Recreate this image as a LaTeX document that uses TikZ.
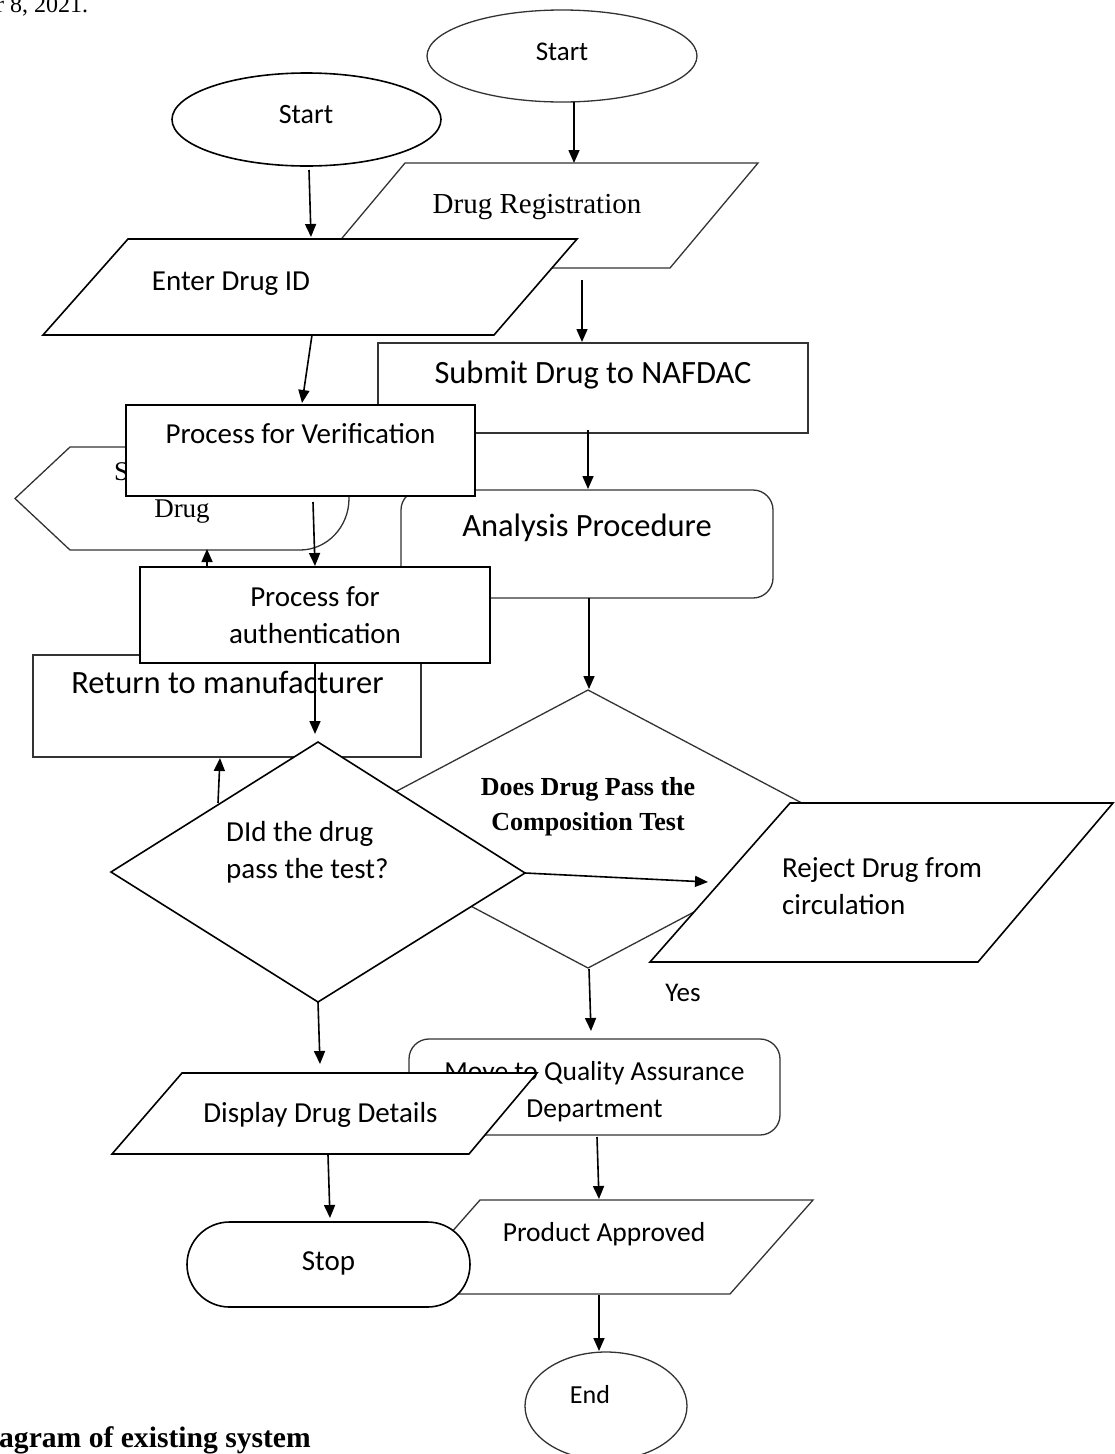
\documentclass[tikz,border=0pt]{standalone}
\usepackage{fontspec}
\setmainfont{Carlito}
\newfontfamily\tnr{Liberation Serif}
\usetikzlibrary{arrows.meta,shapes.geometric}
\begin{document}
\begin{tikzpicture}[x=1pt,y=-1pt,
  rl/.style={draw=black!80, line width=1.3pt, fill=white},
  ll/.style={draw=black, line width=1.6pt, fill=white},
  bx/.style={draw=black, line width=2.6pt, fill=white},
  arr/.style={draw=black, line width=1.6pt, -{Triangle[length=13pt,width=11pt]}},
  tl/.style={inner sep=0pt, font=\fontsize{29}{37}\selectfont},
  tr/.style={inner sep=0pt, font=\fontsize{32.5}{40}\selectfont},
  ts/.style={inner sep=0pt, font=\fontsize{27.5}{37}\selectfont},
  tt/.style={inner sep=0pt, font=\tnr\fontsize{29}{34}\selectfont},
]
\useasboundingbox (0,0) rectangle (1114,1454);
\fill[white] (0,0) rectangle (1114,1454);

% header fragment
\node[inner sep=0pt, anchor=base west, font=\tnr\fontsize{24}{28}\selectfont] (date) at (-4,12) {r 8, 2021.};

% ---------- right chart (top) ----------
\node[rl, ellipse, minimum width=270pt, minimum height=92pt, inner sep=0pt] (startR) at (562,56) {};
\node[ts, font=\fontsize{27}{32}\selectfont, anchor=base] (startRt) at (562,60) {Start};
\coordinate (aR1s) at (574,102); \coordinate (aR1e) at (574,163);
\draw[arr] (aR1s) -- (aR1e);

\draw[rl] (405,163) -- (758,163) -- (670,268) -- (317,268) -- cycle;
\node[tt, anchor=base] (regT) at (537,213) {Drug Registration};

% ---------- left chart (top) ----------
\node[ll, ellipse, minimum width=269pt, minimum height=93pt, inner sep=0pt] (startL) at (306.5,119.5) {};
\node[tl, font=\fontsize{28}{32}\selectfont, anchor=base] (startLt) at (306,123) {Start};
\coordinate (aL1s) at (309,170); \coordinate (aL1e) at (311,237);
\draw[arr] (aL1s) -- (aL1e);

\draw[ll] (128,239) -- (577,239) -- (494,335) -- (43,335) -- cycle;
\node[tl, anchor=base] (enterT) at (231,290) {Enter Drug ID};

\coordinate (aR2s) at (582,280); \coordinate (aR2e) at (582,342);
\draw[arr] (aR2s) -- (aR2e);

\node[rl, rectangle, minimum width=430pt, minimum height=90pt, inner sep=0pt] (submit) at (593,388) {};
\node[tr, anchor=base] (submitT) at (593,383) {Submit Drug to NAFDAC};

\coordinate (aL2s) at (312,335); \coordinate (aL2e) at (302,403);
\draw[arr] (aL2s) -- (aL2e);

\node[rl, rectangle, rounded corners=20pt, minimum width=372pt, minimum height=108pt, inner sep=0pt] (analysis) at (587,544) {};
\node[tr, anchor=base] (analysisT) at (587,536) {Analysis Procedure};

\coordinate (aR3s) at (588,430); \coordinate (aR3e) at (588,489);
\draw[arr] (aR3s) -- (aR3e);

% display shape (partly hidden)
\draw[rl] (15,498.5) -- (70,447) -- (300,447) .. controls (327.1,447) and (349,470.1) .. (349,498.5)
   .. controls (349,526.9) and (327.1,550) .. (300,550) -- (70,550) -- cycle;
\node[inner sep=0pt, anchor=base west, font=\tnr\fontsize{27}{32}\selectfont] (dispS) at (114,480) {S};
\node[inner sep=0pt, anchor=base, font=\tnr\fontsize{27}{32}\selectfont] (dispD) at (182,517) {Drug};

\node[bx, rectangle, minimum width=349pt, minimum height=91pt, inner sep=0pt] (verif) at (300.5,450.5) {};
\node[tl, anchor=base] (verifT) at (300.5,443) {Process for Verification};

\coordinate (aL3s) at (313,502); \coordinate (aL3e) at (315,566);
\draw[arr] (aL3s) -- (aL3e);

\node[rl, rectangle, minimum width=388pt, minimum height=102pt, inner sep=0pt] (return) at (227,706) {};
\node[tr, anchor=base] (returnT) at (227.5,693) {Return to manufacturer};

\node[bx, rectangle, minimum width=350pt, minimum height=96pt, inner sep=0pt] (auth) at (315,615) {};
\node[tl, align=center] (authT) at (315,615.5) {Process for\\authentication};

\coordinate (aL4s) at (207,566); \coordinate (aL4e) at (207,549);
\draw[arr] (aL4s) -- (aL4e);
\coordinate (aL5s) at (315,664); \coordinate (aL5e) at (315,734);
\draw[arr] (aL5s) -- (aL5e);
\coordinate (aR4s) at (589,598); \coordinate (aR4e) at (589,689);
\draw[arr] (aR4s) -- (aR4e);

% right decision
\draw[rl] (588,690) -- (851,829) -- (588,968) -- (325,829) -- cycle;
\node[inner sep=0pt, align=center, font=\tnr\bfseries\fontsize{26}{35}\selectfont] (testR) at (588,806.5) {Does Drug Pass the\\Composition Test};

% left decision
\draw[ll] (318,742) -- (525,873) -- (318,1002) -- (111,872) -- cycle;
\node[tl, align=left, anchor=west] (testL) at (226,852) {DId the drug\\pass the test?};
\coordinate (aL6s) at (218,803); \coordinate (aL6e) at (220,758);
\draw[arr] (aL6s) -- (aL6e);

% reject
\draw[ll] (790,803) -- (1113,803) -- (978,962) -- (650,962) -- cycle;
\node[tl, align=left, anchor=west] (rejectT) at (782,886.5) {Reject Drug from\\circulation};
\coordinate (aL7s) at (525,873); \coordinate (aL7e) at (708,882);
\draw[arr] (aL7s) -- (aL7e);

% yes branch
\coordinate (aR5s) at (589,969); \coordinate (aR5e) at (591,1031);
\draw[arr] (aR5s) -- (aR5e);
\node[ts, font=\fontsize{27}{32}\selectfont, anchor=base] (yes) at (683,1001) {Yes};

\node[rl, rectangle, rounded corners=20pt, minimum width=371pt, minimum height=96pt, inner sep=0pt] (qa) at (594.5,1087) {};
\node[ts, align=center] (qaT) at (594.5,1092) {Move to Quality Assurance\\Department};

% display details
\draw[ll] (182,1073) -- (537,1073) -- (469,1154) -- (112,1154) -- cycle;
\node[tl, anchor=base] (dispDetT) at (320.5,1122) {Display Drug Details};
\coordinate (aL8s) at (318,1002); \coordinate (aL8e) at (320,1064);
\draw[arr] (aL8s) -- (aL8e);

\coordinate (aR6s) at (597,1137); \coordinate (aR6e) at (599,1199);
\draw[arr] (aR6s) -- (aR6e);

\draw[rl] (480,1200) -- (813,1200) -- (730,1294) -- (397,1294) -- cycle;
\node[ts, anchor=base] (prodT) at (604,1241) {Product Approved};

\node[ll, rectangle, rounded corners=42.5pt, minimum width=283pt, minimum height=85pt, inner sep=0pt] (stop) at (328.5,1264.5) {};
\node[tl, anchor=base] (stopT) at (328.5,1270) {Stop};
\coordinate (aL9s) at (328,1155); \coordinate (aL9e) at (330,1218);
\draw[arr] (aL9s) -- (aL9e);

\coordinate (aR7s) at (599,1295); \coordinate (aR7e) at (599,1351);
\draw[arr] (aR7s) -- (aR7e);
\node[rl, ellipse, minimum width=162pt, minimum height=108pt, inner sep=0pt] (end) at (606,1406) {};
\node[ts, font=\fontsize{26}{30}\selectfont, anchor=base] (endT) at (590,1403) {End};

% caption fragment
\node[inner sep=0pt, anchor=base west, font=\tnr\bfseries\fontsize{29.6}{34}\selectfont] (caption) at (-1,1447) {agram of existing system};
\end{tikzpicture}
\end{document}
